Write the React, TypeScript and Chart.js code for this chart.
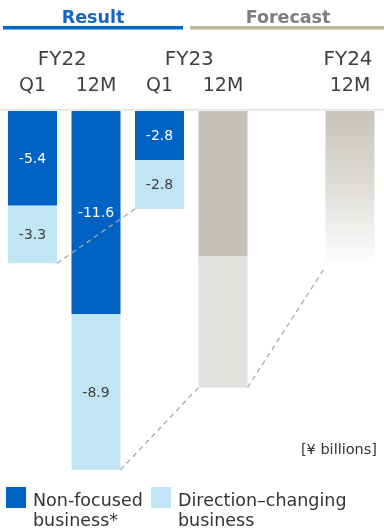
import React, { useEffect, useRef } from "react";
import { Chart, registerables } from "chart.js";

Chart.register(...registerables);

const categories = ["FY22 Q1", "FY22 12M", "FY23 Q1", "FY23 12M", "", "FY24 12M"];
const periodLabels = ["Q1", "12M", "Q1", "12M", "", "12M"];
const yearLabels = ["FY22", "FY23", "FY24"];
const yearSpans = [[0, 1], [2, 3], [5, 5]];
const nonFocused = [-5.4, -11.6, -2.8, null, null, null];
const directionChanging = [-3.3, -8.9, -2.8, null, null, null];
const forecastUpper = [null, null, null, -8.3, null, null];
const forecastLower = [null, null, null, -7.5, null, null];
const forecastFY24 = [null, null, null, null, null, -8.9];
const connectors = [[0, 2], [1, 3], [3, 5]];
const legendItems = [
  { lines: ["Non-focused", "business*"], color: "#0062c2" },
  { lines: ["Direction\u2013changing", "business"], color: "#c2e5f5" },
];
const unitLabel = "[\u00a5 billions]";

const FONT = '"DejaVu Sans"';

export default function App() {
  const ref = useRef<HTMLCanvasElement | null>(null);
  useEffect(() => {
    const canvas = ref.current;
    if (!canvas) return;

    const decor = {
      id: "decor",
      beforeDatasetsDraw(chart: any) {
        const { ctx, scales } = chart;
        const y0 = scales.y.getPixelForValue(0);
        ctx.save();
        ctx.fillStyle = "#e2e2e2";
        ctx.fillRect(0, y0 - 2, 384, 1.5);
        ctx.restore();
      },
      afterDatasetsDraw(chart: any) {
        const { ctx, scales } = chart;
        const xs = scales.x;
        ctx.save();
        const bottomOf = (idx: number) => {
          let best: any = null;
          chart.data.datasets.forEach((ds: any, di: number) => {
            if (ds.data[idx] == null) return;
            const el = chart.getDatasetMeta(di).data[idx] as any;
            const b = Math.max(el.y, el.base);
            if (!best || b > best.y) best = { y: b, l: el.x - el.width / 2, r: el.x + el.width / 2 };
          });
          return best;
        };
        ctx.strokeStyle = "#a8a8a8";
        ctx.lineWidth = 1.3;
        ctx.setLineDash([5, 4]);
        connectors.forEach(([a, b]) => {
          const A = bottomOf(a);
          const B = bottomOf(b);
          if (!A || !B) return;
          ctx.beginPath();
          ctx.moveTo(A.r, A.y);
          ctx.lineTo(B.l, B.y);
          ctx.stroke();
        });
        ctx.setLineDash([]);
        ctx.font = `14px ${FONT}`;
        ctx.textAlign = "center";
        ctx.textBaseline = "middle";
        [0, 1].forEach((di) => {
          const meta = chart.getDatasetMeta(di);
          const ds = chart.data.datasets[di];
          meta.data.forEach((el: any, i: number) => {
            const v = ds.data[i];
            if (v == null) return;
            ctx.fillStyle = di === 0 ? "#ffffff" : "#404040";
            ctx.fillText(v.toFixed(1), el.x, (el.y + el.base) / 2 + 1);
          });
        });
        ctx.textBaseline = "alphabetic";
        ctx.font = `bold 17.5px ${FONT}`;
        ctx.fillStyle = "#1766c2";
        ctx.fillText("Result", 93, 22.5);
        ctx.fillStyle = "#7f7f7f";
        ctx.fillText("Forecast", 288, 22.5);
        ctx.fillStyle = "#0066cc";
        ctx.fillRect(3, 26, 180, 3.5);
        ctx.fillStyle = "#bfb796";
        ctx.fillRect(190, 26, 194, 3.5);
        ctx.fillStyle = "#3f3f3f";
        ctx.font = `20px ${FONT}`;
        yearLabels.forEach((t, k) => {
          const [a, b] = yearSpans[k];
          const x = (xs.getPixelForValue(a) + xs.getPixelForValue(b)) / 2 - 2;
          ctx.fillText(t, x, 65);
        });
        ctx.font = `19px ${FONT}`;
        periodLabels.forEach((t, i) => {
          if (!t) return;
          ctx.fillText(t, xs.getPixelForValue(i), 91);
        });
        ctx.font = `14.5px ${FONT}`;
        ctx.textAlign = "right";
        ctx.fillStyle = "#333333";
        ctx.fillText(unitLabel, 377, 454);
        ctx.textAlign = "left";
        ctx.font = `17.5px ${FONT}`;
        const lx = [6, 151];
        legendItems.forEach((it, k) => {
          ctx.fillStyle = it.color;
          ctx.fillRect(lx[k], 487, 20, 21);
          ctx.fillStyle = "#333333";
          it.lines.forEach((ln, j) => ctx.fillText(ln, lx[k] + 27, 506 + j * 19.5));
        });
        ctx.restore();
      },
    };

    const chart = new Chart(canvas, {
      type: "bar",
      data: {
        labels: categories,
        datasets: [
          { label: "Non-focused business*", data: nonFocused, backgroundColor: "#0062c2" },
          { label: "Direction-changing business", data: directionChanging, backgroundColor: "#c2e5f5" },
          { label: "Forecast A", data: forecastUpper, backgroundColor: "#c5c0b8" },
          { label: "Forecast B", data: forecastLower, backgroundColor: "#e4e2de" },
          {
            label: "Forecast FY24",
            data: forecastFY24,
            backgroundColor: (context: any) => {
              const { chart } = context;
              const { ctx, chartArea, scales } = chart;
              if (!chartArea) return "#c8c3bb";
              const top = scales.y.getPixelForValue(0);
              const bot = scales.y.getPixelForValue(forecastFY24[5] as number);
              const g = ctx.createLinearGradient(0, top, 0, bot);
              g.addColorStop(0, "#c8c3bb");
              g.addColorStop(0.45, "#dedbd6");
              g.addColorStop(1, "#ffffff");
              return g;
            },
          },
        ] as any,
      },
      options: {
        responsive: false,
        animation: false,
        devicePixelRatio: 1,
        layout: { padding: { top: 111, bottom: 34, left: 0.75, right: 2.25 } },
        datasets: { bar: { categoryPercentage: 1, barPercentage: 0.772, borderWidth: 0 } } as any,
        scales: {
          x: { display: false, stacked: true },
          y: { display: false, stacked: true, min: -22, max: 0 },
        },
        plugins: { legend: { display: false }, tooltip: { enabled: false } },
      },
      plugins: [decor],
    });
    let alive = true;
    const fonts = (document as any).fonts;
    if (fonts && fonts.load) {
      Promise.all([
        fonts.load(`20px ${FONT}`),
        fonts.load(`bold 20px ${FONT}`),
      ]).then(() => {
        if (alive) chart.update();
      }).catch(() => {});
    }
    return () => {
      alive = false;
      chart.destroy();
    };
  }, []);

  return (
    <div style={{ position: "fixed", left: 0, top: 0, width: 384, height: 530, background: "#fff" }}>
      <canvas ref={ref} width={384} height={530} style={{ display: "block", width: 384, height: 530 }} />
    </div>
  );
}
